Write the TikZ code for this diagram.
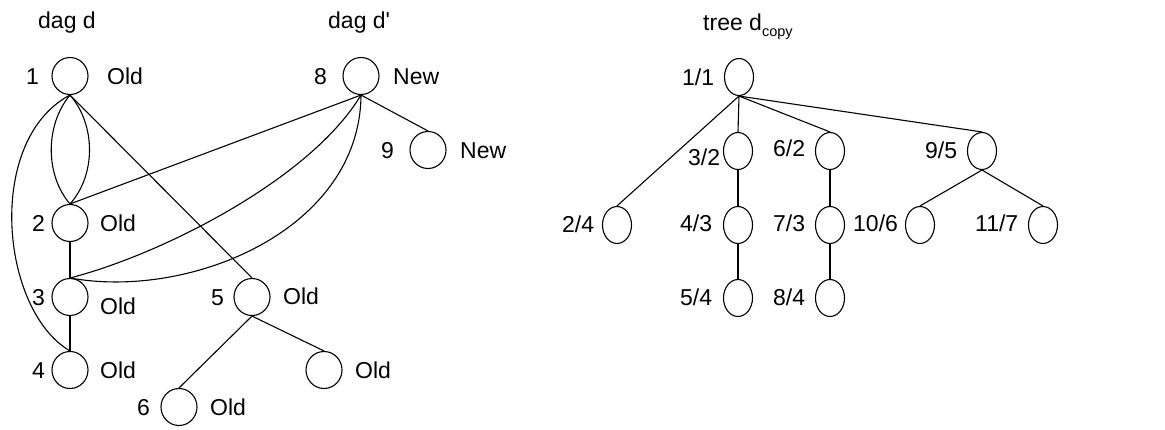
\documentclass[tikz,border=0pt]{standalone}
\usepackage{fontspec}
\setmainfont{Liberation Sans}
\usetikzlibrary{shapes.geometric}
\tikzset{
  x=1pt, y=-1pt,
  edge/.style={line width=1.1pt},
  dnode/.style={draw, ellipse, line width=1.1pt, minimum width=36pt, minimum height=37pt, inner sep=0pt},
  tnode/.style={draw, ellipse, line width=1.1pt, minimum width=29pt, minimum height=37pt, inner sep=0pt},
  lbl/.style={inner sep=0pt, anchor=west, text height=16.5pt, text depth=0pt, font=\fontsize{23}{23}\selectfont},
}
\begin{document}
\begin{tikzpicture}
\useasboundingbox (0,0) rectangle (1165,429);

% ---------- dag d ----------
\node[lbl] (tdag) at (38,20) {dag d};
\node[dnode] (n1) at (70,76) {};
\node[dnode] (n2) at (70,223) {};
\node[dnode] (n3) at (70,297) {};
\node[dnode] (n4) at (70,370) {};
\node[dnode] (n5) at (252,297) {};
\node[dnode] (n6) at (179,407) {};
\node[dnode] (n7) at (324,370) {};

\node[lbl] (l1) at (26,76) {1};
\node[lbl] (o1) at (107,76) {Old};
\node[lbl] (l2) at (32,223) {2};
\node[lbl] (o2) at (100,223) {Old};
\node[lbl] (l3) at (32,297) {3};
\node[lbl] (o3) at (100,306) {Old};
\node[lbl] (l4) at (32,370) {4};
\node[lbl] (o4) at (100,370) {Old};
\node[lbl] (l5) at (211,297) {5};
\node[lbl] (o5) at (283,296) {Old};
\node[lbl] (l6) at (137,407) {6};
\node[lbl] (o6) at (210,407) {Old};
\node[lbl] (o7) at (355,370) {Old};

% ---------- dag d' ----------
\node[lbl] (tdagp) at (328,20) {dag d\textquotesingle};
\node[dnode] (n8) at (361,76) {};
\node[dnode] (n9) at (428,150) {};
\node[lbl] (l8) at (314,76) {8};
\node[lbl] (o8) at (393,76) {New};
\node[lbl] (l9) at (381,150) {9};
\node[lbl] (o9) at (460,150) {New};

% ---------- edges of dags ----------
\draw[edge] (n1.south) .. controls (45,125) and (45,175) .. (n2.north);
\draw[edge] (n1.south) .. controls (96,125) and (96,175) .. (n2.north);
\draw[edge] (n1.south) .. controls (-15,140) and (0,310) .. (n4.north);
\draw[edge] (n1.south) -- (n5.north);
\draw[edge] (n2.south) -- (n3.north);
\draw[edge] (n3.south) -- (n4.north);
\draw[edge] (n5.south) -- (n6.north);
\draw[edge] (n5.south) -- (n7.north);
\draw[edge] (n8.south) -- (n9.north);
\draw[edge] (n8.south) -- (n2.north);
\draw[edge] (n8.south) .. controls (310,180) and (160,255) .. (n3.north);
\draw[edge] (n8.south) .. controls (360,230) and (190,300) .. (n3.north);

% ---------- tree d_copy ----------
\node[lbl] (ttree) at (703,22) {tree d\raisebox{-6pt}{\fontsize{14.5}{14.5}\selectfont copy}};
\node[tnode] (t1) at (739,77) {};
\node[tnode] (t3) at (738,151) {};
\node[tnode] (t6) at (830,151) {};
\node[tnode] (t9) at (982,151) {};
\node[tnode] (t2) at (617,225) {};
\node[tnode] (t4) at (738,225) {};
\node[tnode] (t7) at (830,225) {};
\node[tnode] (t10) at (920,225) {};
\node[tnode] (t11) at (1043,225) {};
\node[tnode] (t5) at (738,298) {};
\node[tnode] (t8) at (830,298) {};

\node[lbl] (k1) at (682,77) {1/1};
\node[lbl] (k3) at (688,157) {3/2};
\node[lbl] (k6) at (773,148) {6/2};
\node[lbl] (k9) at (925,150) {9/5};
\node[lbl] (k2) at (562,224) {2/4};
\node[lbl] (k4) at (680,223) {4/3};
\node[lbl] (k7) at (773,223) {7/3};
\node[lbl] (k10) at (853,223) {10/6};
\node[lbl] (k11) at (975,223) {11/7};
\node[lbl] (k5) at (680,297) {5/4};
\node[lbl] (k8) at (773,297) {8/4};

\draw[edge] (t1.south) -- (t2.north);
\draw[edge] (t1.south) -- (t3.north);
\draw[edge] (t1.south) -- (t6.north);
\draw[edge] (t1.south) -- (t9.north);
\draw[edge] (t3.south) -- (t4.north);
\draw[edge] (t4.south) -- (t5.north);
\draw[edge] (t6.south) -- (t7.north);
\draw[edge] (t7.south) -- (t8.north);
\draw[edge] (t9.south) -- (t10.north);
\draw[edge] (t9.south) -- (t11.north);
\end{tikzpicture}
\end{document}
